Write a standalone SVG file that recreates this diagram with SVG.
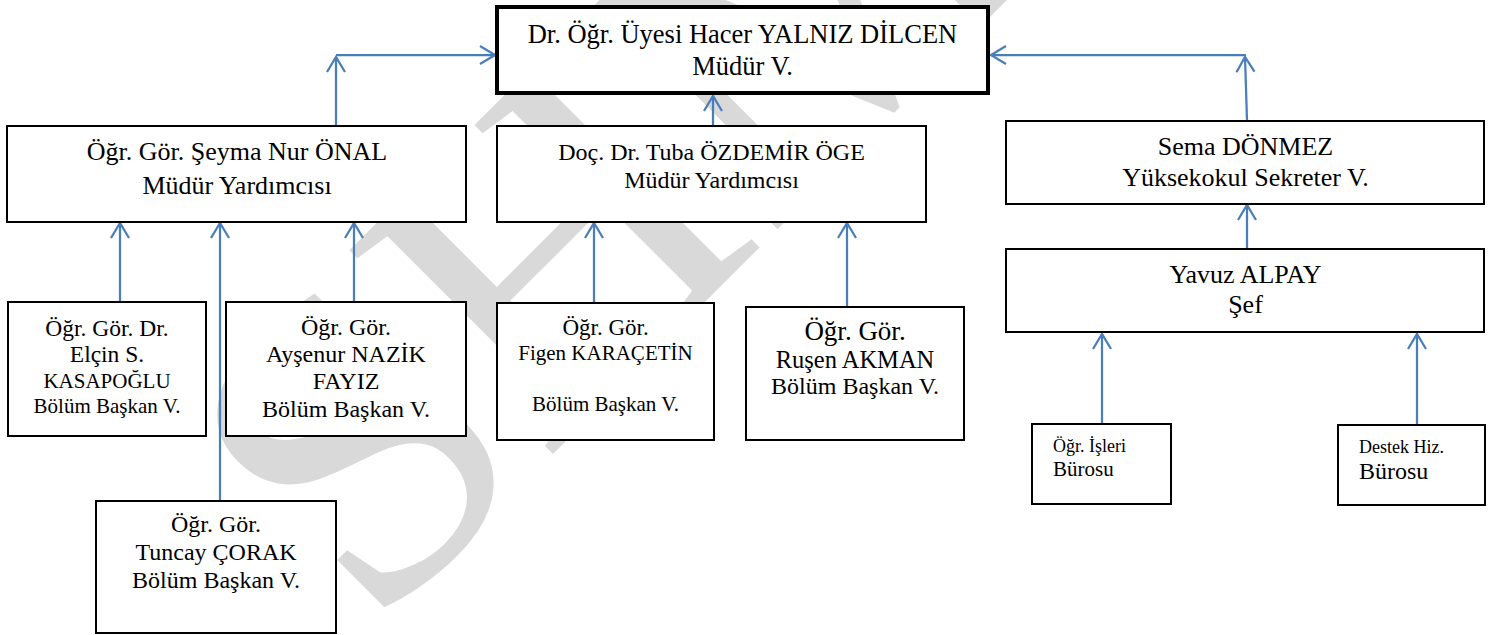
<svg xmlns="http://www.w3.org/2000/svg" width="1494" height="635" viewBox="0 0 1494 635">
<style>
.bx{fill:#fff;stroke:#000;stroke-width:2}
.mainbx{fill:#fff;stroke:#000;stroke-width:4}
.t{font-family:"Liberation Serif","Times New Roman",serif;fill:#000;text-anchor:middle}
.l{font-family:"Liberation Serif","Times New Roman",serif;fill:#000;text-anchor:start}
.c{stroke:#4a7ebb;stroke-width:2.25;fill:none;marker-end:url(#ah)}
.wm{font-family:"Liberation Serif","Times New Roman",serif;fill:#d9d9d9}
</style>
<defs>
<marker id="ah" markerUnits="userSpaceOnUse" markerWidth="24" markerHeight="24" viewBox="-18 -12 24 24" refX="0" refY="0" orient="auto">
<path d="M-15,-9 L0,0 L-15,9" fill="none" stroke="#4a7ebb" stroke-width="2.25"/>
</marker>
</defs>
<rect width="1494" height="635" fill="#fff"/>
<text class="wm" font-size="440" transform="translate(371,636) rotate(-45)">SHM</text>
<g id="connectors">
<path class="c" d="M336,126 L336,57"/>
<path class="c" d="M336,55 L495,55"/>
<path class="c" d="M713,126 L713,96"/>
<path class="c" d="M1247,120 L1245,57"/>
<path class="c" d="M1246,55 L991,55"/>
<path class="c" d="M120,302 L120,223"/>
<path class="c" d="M220,501 L220,223"/>
<path class="c" d="M354,302 L354,223"/>
<path class="c" d="M594,306 L594,223"/>
<path class="c" d="M847,307 L847,223"/>
<path class="c" d="M1247,248 L1247,205"/>
<path class="c" d="M1102,424 L1102,334"/>
<path class="c" d="M1417,425 L1417,334"/>
</g>
<g id="n-mudur">
<rect class="mainbx" x="497" y="7" width="491" height="86"/>
<text class="t" x="742.5" y="43" font-size="26.5">Dr. Öğr. Üyesi Hacer YALNIZ DİLCEN</text>
<text class="t" x="742.5" y="75" font-size="26.5">Müdür V.</text>
</g>
<g id="n-seyma">
<rect class="bx" x="7" y="126" width="459" height="96"/>
<text class="t" x="237" y="160" font-size="26">Öğr. Gör. Şeyma Nur ÖNAL</text>
<text class="t" x="237" y="194" font-size="26">Müdür Yardımcısı</text>
</g>
<g id="n-tuba">
<rect class="bx" x="497" y="126" width="429" height="96"/>
<text class="t" x="711.5" y="160" font-size="24">Doç. Dr. Tuba ÖZDEMİR ÖGE</text>
<text class="t" x="711.5" y="188" font-size="24">Müdür Yardımcısı</text>
</g>
<g id="n-sema">
<rect class="bx" x="1006" y="121" width="478" height="83"/>
<text class="t" x="1245.5" y="155" font-size="26">Sema DÖNMEZ</text>
<text class="t" x="1245.5" y="186" font-size="26">Yüksekokul Sekreter V.</text>
</g>
<g id="n-yavuz">
<rect class="bx" x="1006" y="249" width="478" height="83"/>
<text class="t" x="1245.5" y="283" font-size="26">Yavuz ALPAY</text>
<text class="t" x="1245.5" y="313" font-size="26">Şef</text>
</g>
<g id="n-elcin">
<rect class="bx" x="8" y="302" width="198" height="134"/>
<text class="t" x="107" y="336" font-size="23.5">Öğr. Gör. Dr.</text>
<text class="t" x="107" y="362" font-size="23.5">Elçin S.</text>
<text class="t" x="107" y="388" font-size="21">KASAPOĞLU</text>
<text class="t" x="107" y="413" font-size="21">Bölüm Başkan V.</text>
</g>
<g id="n-aysenur">
<rect class="bx" x="226" y="302" width="240" height="134"/>
<text class="t" x="346" y="335" font-size="24">Öğr. Gör.</text>
<text class="t" x="346" y="362" font-size="24">Ayşenur NAZİK</text>
<text class="t" x="346" y="389" font-size="24">FAYIZ</text>
<text class="t" x="346" y="417" font-size="24">Bölüm Başkan V.</text>
</g>
<g id="n-tuncay">
<rect class="bx" x="96" y="501" width="240" height="132"/>
<text class="t" x="216" y="532" font-size="24">Öğr. Gör.</text>
<text class="t" x="216" y="560" font-size="24">Tuncay ÇORAK</text>
<text class="t" x="216" y="588" font-size="24">Bölüm Başkan V.</text>
</g>
<g id="n-figen">
<rect class="bx" x="497" y="303" width="217" height="137"/>
<text class="t" x="605.5" y="335" font-size="23">Öğr. Gör.</text>
<text class="t" x="605.5" y="360" font-size="21">Figen KARAÇETİN</text>
<text class="t" x="605.5" y="411" font-size="21">Bölüm Başkan V.</text>
</g>
<g id="n-rusen">
<rect class="bx" x="746" y="307" width="218" height="133"/>
<text class="t" x="855" y="340" font-size="27">Öğr. Gör.</text>
<text class="t" x="855" y="368" font-size="24.5">Ruşen AKMAN</text>
<text class="t" x="855" y="394" font-size="24">Bölüm Başkan V.</text>
</g>
<g id="n-isleri">
<rect class="bx" x="1032" y="424" width="139" height="80"/>
<text class="l" x="1053" y="452" font-size="18">Öğr. İşleri</text>
<text class="l" x="1053" y="476" font-size="21">Bürosu</text>
</g>
<g id="n-destek">
<rect class="bx" x="1338" y="425" width="147" height="80"/>
<text class="l" x="1359" y="453" font-size="18">Destek Hiz.</text>
<text class="l" x="1359" y="479" font-size="24">Bürosu</text>
</g>
</svg>
